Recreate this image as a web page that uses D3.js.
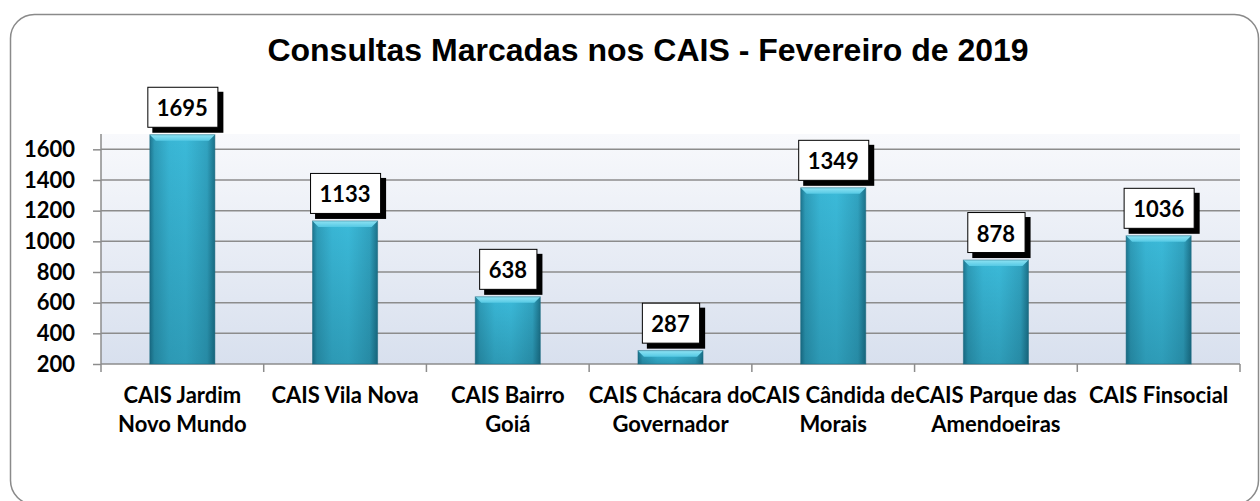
<!DOCTYPE html>
<html>
<head>
<meta charset="utf-8">
<script src="https://cdn.jsdelivr.net/npm/d3@7"></script>
<style>
  body { margin: 0; background: #fff; }
  svg { display: block; }
</style>
</head>
<body>
<div id="chart"></div>
<script>
// data
var categories = ["CAIS Jardim\nNovo Mundo", "CAIS Vila Nova", "CAIS Bairro\nGoiá",
  "CAIS Chácara do\nGovernador", "CAIS Cândida de\nMorais", "CAIS Parque das\nAmendoeiras", "CAIS Finsocial"];
var values = [1695, 1133, 638, 287, 1349, 878, 1036];
var yTicks = [200, 400, 600, 800, 1000, 1200, 1400, 1600];
var title = "Consultas Marcadas nos CAIS - Fevereiro de 2019";

var W = 1260, H = 501;
var plot = {left: 101, right: 1240, top: 134, bottom: 364};

var svg = d3.select("#chart").append("svg")
  .attr("width", W).attr("height", H);

var defs = svg.append("defs");

// plot background gradient
var bg = defs.append("linearGradient").attr("id", "plotBg")
  .attr("x1", 0).attr("y1", 0).attr("x2", 0).attr("y2", 1);
bg.append("stop").attr("offset", "0%").attr("stop-color", "#f8f9fc");
bg.append("stop").attr("offset", "100%").attr("stop-color", "#d8e0ee");

// bar body, horizontal shading
var bh = defs.append("linearGradient").attr("id", "barH")
  .attr("x1", 0).attr("y1", 0).attr("x2", 1).attr("y2", 0);
[["0%", "#1d7690"], ["7%", "#2e9cb8"], ["30%", "#39b6d5"], ["55%", "#3bbad9"],
 ["88%", "#31a3c0"], ["100%", "#1c728a"]].forEach(function(s) {
  bh.append("stop").attr("offset", s[0]).attr("stop-color", s[1]);
});
// darken toward the bottom
var bv = defs.append("linearGradient").attr("id", "barV")
  .attr("x1", 0).attr("y1", 0).attr("x2", 0).attr("y2", 1);
bv.append("stop").attr("offset", "0%").attr("stop-color", "#003040").attr("stop-opacity", 0);
bv.append("stop").attr("offset", "100%").attr("stop-color", "#003040").attr("stop-opacity", 0.22);
// top bevel
var bt = defs.append("linearGradient").attr("id", "barTop")
  .attr("x1", 0).attr("y1", 0).attr("x2", 0).attr("y2", 1);
bt.append("stop").attr("offset", "0%").attr("stop-color", "#8ee3f4");
bt.append("stop").attr("offset", "100%").attr("stop-color", "#55c9e4");

// outer frame
svg.append("rect")
  .attr("x", 10.5).attr("y", 14.5)
  .attr("width", 1248).attr("height", 490)
  .attr("rx", 24).attr("ry", 24)
  .attr("fill", "#fff")
  .attr("stroke", "#8a8a8a").attr("stroke-width", 1.5);

// title
svg.append("text")
  .attr("x", 648).attr("y", 61)
  .attr("text-anchor", "middle")
  .style("font-family", "'Liberation Sans', Arial, sans-serif")
  .style("font-weight", "bold")
  .style("font-size", "32px")
  .text(title);

// scales
var x = d3.scaleBand()
  .domain(d3.range(categories.length))
  .range([plot.left, plot.right])
  .padding(0);

var y = d3.scaleLinear()
  .domain([200, 1700])
  .range([plot.bottom, plot.top]);

// plot area
svg.append("rect")
  .attr("x", plot.left).attr("y", plot.top)
  .attr("width", plot.right - plot.left).attr("height", plot.bottom - plot.top)
  .attr("fill", "url(#plotBg)");

// gridlines
svg.append("g")
  .selectAll("line")
  .data(yTicks.slice(1))
  .enter().append("line")
    .attr("x1", plot.left).attr("x2", plot.right)
    .attr("y1", function(d) { return y(d) }).attr("y2", function(d) { return y(d) })
    .attr("stroke", "#8c8c8c").attr("stroke-width", 1.5);

// y axis
var yAxis = svg.append("g")
  .attr("transform", "translate(" + plot.left + ",0)")
  .call(d3.axisLeft(y).tickValues(yTicks).tickFormat(d3.format("d")).tickSize(8).tickPadding(18));
yAxis.select(".domain")
  .attr("d", "M0," + plot.top + "V" + plot.bottom)
  .attr("stroke", "#8c8c8c").attr("stroke-width", 1.5);
yAxis.selectAll(".tick line").attr("stroke", "#8c8c8c").attr("stroke-width", 1.5);
yAxis.selectAll(".tick text")
  .style("font-family", "Lato, sans-serif")
  .style("font-weight", "bold")
  .style("font-size", "22px")
  .attr("fill", "#000");

// x axis: baseline plus ticks at band edges
var xg = svg.append("g");
xg.append("line")
  .attr("x1", plot.left).attr("x2", plot.right)
  .attr("y1", plot.bottom).attr("y2", plot.bottom)
  .attr("stroke", "#8c8c8c").attr("stroke-width", 1.5);
xg.selectAll(".xtick")
  .data(d3.range(categories.length + 1))
  .enter().append("line")
    .attr("class", "xtick")
    .attr("x1", function(i) { return plot.left + i * x.bandwidth() })
    .attr("x2", function(i) { return plot.left + i * x.bandwidth() })
    .attr("y1", plot.bottom).attr("y2", plot.bottom + 8)
    .attr("stroke", "#8c8c8c").attr("stroke-width", 1.5);

var labels = xg.selectAll(".xlabel")
  .data(categories)
  .enter().append("text")
    .attr("class", "xlabel")
    .attr("text-anchor", "middle")
    .style("font-family", "Lato, sans-serif")
    .style("font-weight", "bold")
    .style("font-size", "22px")
    .attr("fill", "#000");
labels.each(function(d, i) {
  var t = d3.select(this);
  d.split("\n").forEach(function(line, k) {
    t.append("tspan")
      .attr("x", x(i) + x.bandwidth() / 2)
      .attr("y", 403 + k * 29)
      .text(line);
  });
});

// bars
var barW = x.bandwidth() * 0.4;
var bars = svg.append("g").selectAll("g")
  .data(values)
  .enter().append("g")
    .attr("transform", function(d, i) {
      return "translate(" + (x(i) + (x.bandwidth() - barW) / 2) + "," + y(d) + ")";
    });

bars.append("rect")
  .attr("width", barW)
  .attr("height", function(d) { return y(200) - y(d) })
  .attr("fill", "url(#barH)");
bars.append("rect")
  .attr("width", barW)
  .attr("height", function(d) { return y(200) - y(d) })
  .attr("fill", "url(#barV)");
bars.append("path")
  .attr("d", function(d) {
    var b = Math.min(6, (y(200) - y(d)) / 2);
    return "M0,0H" + barW + "L" + (barW - b) + "," + b + "H" + b + "Z";
  })
  .attr("fill", "url(#barTop)");
bars.append("rect")
  .attr("width", barW)
  .attr("height", function(d) { return y(200) - y(d) })
  .attr("fill", "none")
  .attr("stroke", "#1b6a80").attr("stroke-opacity", 0.5).attr("stroke-width", 1);

// value labels: white box with black drop shadow
var vl = svg.append("g").selectAll("g")
  .data(values)
  .enter().append("g")
    .attr("transform", function(d, i) {
      return "translate(" + (x(i) + x.bandwidth() / 2) + "," + (y(d) - 8) + ")";
    });

vl.each(function(d) {
  var g = d3.select(this);
  var shadow = g.append("rect").attr("fill", "#000");
  var box = g.append("rect").attr("fill", "#fff").attr("stroke", "#000").attr("stroke-width", 1);
  var txt = g.append("text")
    .attr("text-anchor", "middle")
    .attr("y", -10.5)
    .style("font-family", "Lato, sans-serif")
    .style("font-weight", "bold")
    .style("font-size", "22px")
    .text(d);
  var w = txt.node().getComputedTextLength() + 19;
  box.attr("x", -w / 2 + 0.5).attr("y", -40 + 0.5).attr("width", w).attr("height", 40);
  shadow.attr("x", -w / 2 + 5).attr("y", -35).attr("width", w + 1).attr("height", 41);
});
</script>
</body>
</html>
